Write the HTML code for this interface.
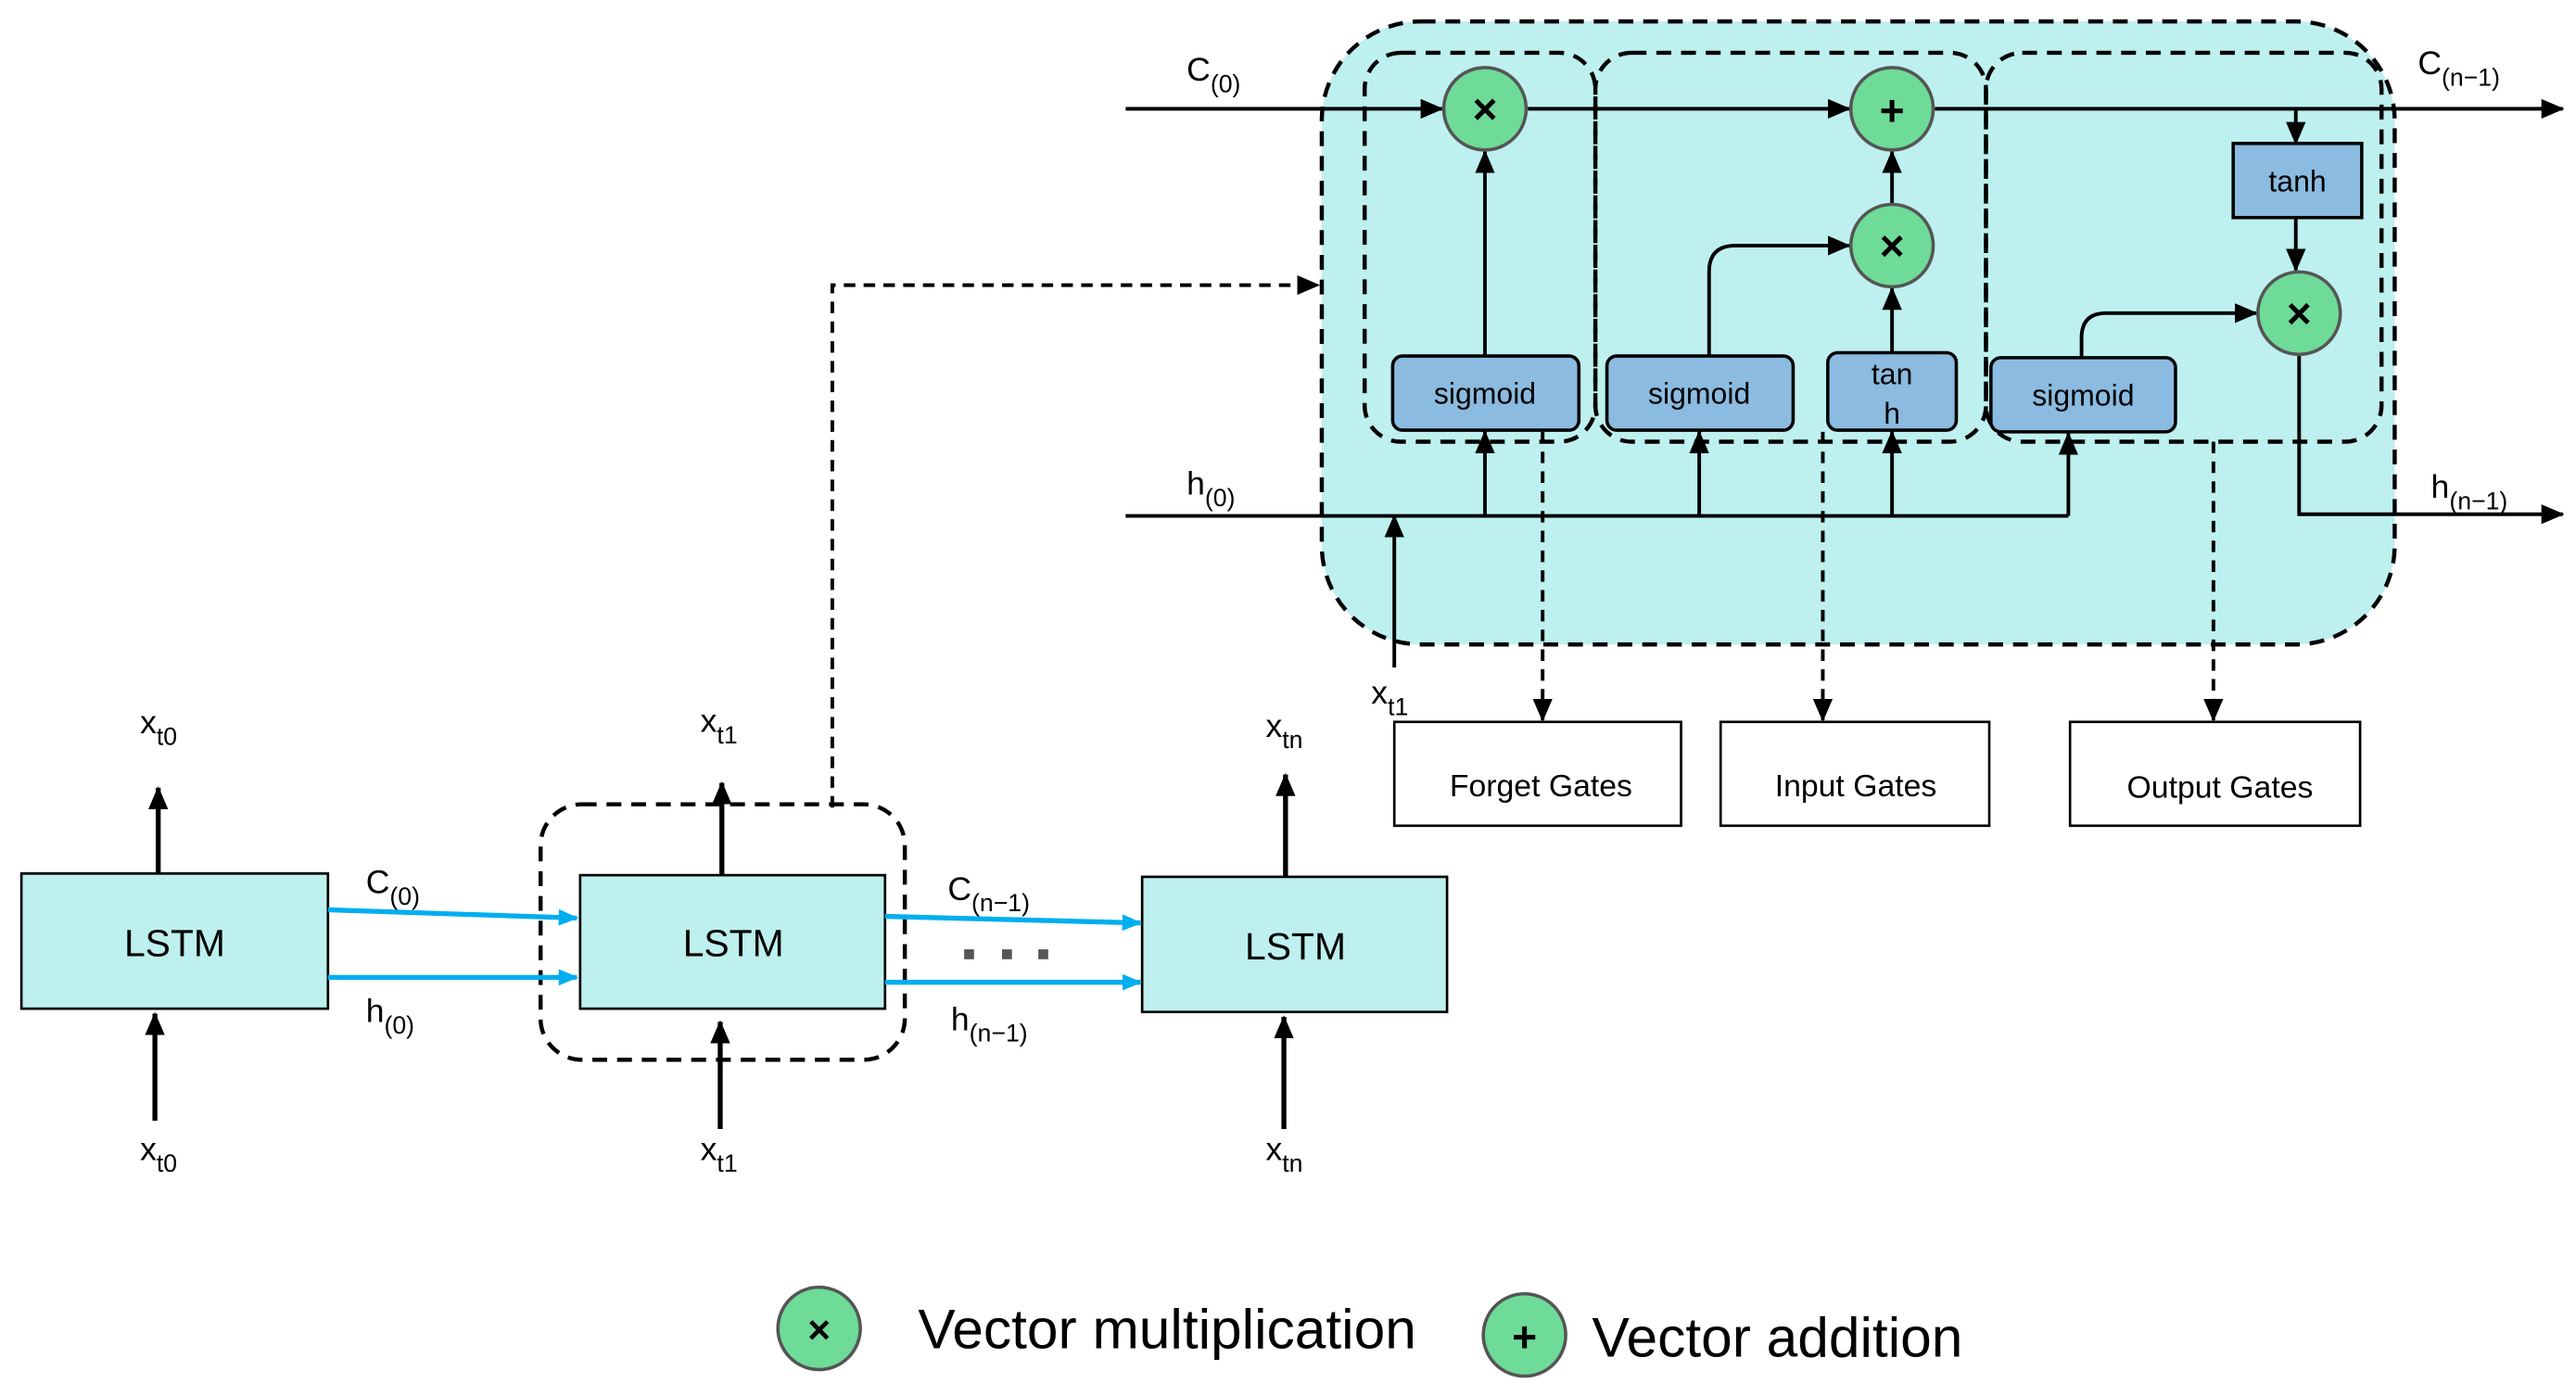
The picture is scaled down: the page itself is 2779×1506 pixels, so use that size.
<!DOCTYPE html>
<html><head><style>html,body{margin:0;padding:0;background:#fff}svg{display:block}</style></head>
<body>
<svg width="2779" height="1506" viewBox="0 0 1563 847" xmlns="http://www.w3.org/2000/svg" font-family="Liberation Sans, Arial, sans-serif">
<defs>
<marker id="a" markerWidth="14" markerHeight="12" refX="13" refY="6" orient="auto" markerUnits="userSpaceOnUse" viewBox="0 0 14 12"><path d="M0,0 L14,6 L0,12z" fill="#000"/></marker>
<marker id="ab" markerWidth="12" markerHeight="10" refX="11" refY="5" orient="auto" markerUnits="userSpaceOnUse" viewBox="0 0 12 10"><path d="M0,0 L12,5 L0,10z" fill="#00aeef"/></marker>
</defs>
<rect x="802" y="13" width="651" height="378" rx="60" fill="#bdf0ef" stroke="#000" stroke-width="2.5" stroke-dasharray="9,6"/>
<g fill="none" stroke="#000" stroke-width="2.5" stroke-dasharray="9,6">
<rect x="828" y="32" width="140" height="236" rx="22"/>
<rect x="968" y="32" width="237" height="236" rx="22"/>
<rect x="1205" y="32" width="240" height="236" rx="22"/>
</g>
<g stroke="#000" stroke-width="2.2" fill="none">
<line x1="683" y1="66" x2="875" y2="66" marker-end="url(#a)"/>
<line x1="927" y1="66" x2="1122" y2="66" marker-end="url(#a)"/>
<line x1="1174" y1="66" x2="1555" y2="66" marker-end="url(#a)"/>
<line x1="1393" y1="66" x2="1393" y2="87" marker-end="url(#a)"/>
<line x1="1393" y1="132" x2="1393" y2="164" marker-end="url(#a)"/>
<line x1="1148" y1="124" x2="1148" y2="92" marker-end="url(#a)"/>
<line x1="901" y1="216" x2="901" y2="92" marker-end="url(#a)"/>
<path d="M1037,216 V165 Q1037,149 1053,149 H1122" marker-end="url(#a)"/>
<line x1="1148" y1="214" x2="1148" y2="175" marker-end="url(#a)"/>
<path d="M1263,217 V205 Q1263,190 1278,190 H1369" marker-end="url(#a)"/>
<path d="M1395,216 V312 H1555" marker-end="url(#a)"/>
<line x1="683" y1="313" x2="1255" y2="313"/>
<line x1="901" y1="313" x2="901" y2="262" marker-end="url(#a)"/>
<line x1="1031" y1="313" x2="1031" y2="262" marker-end="url(#a)"/>
<line x1="1148" y1="313" x2="1148" y2="262" marker-end="url(#a)"/>
<line x1="1255" y1="313" x2="1255" y2="263" marker-end="url(#a)"/>
<line x1="846" y1="405" x2="846" y2="313" marker-end="url(#a)"/>
</g>
<g stroke="#000" stroke-width="2.2" fill="none" stroke-dasharray="7,5">
<line x1="936" y1="262" x2="936" y2="437" marker-end="url(#a)"/>
<line x1="1106" y1="262" x2="1106" y2="437" marker-end="url(#a)"/>
<line x1="1343" y1="268" x2="1343" y2="437" marker-end="url(#a)"/>
<path d="M505,490 V173 H800" marker-end="url(#a)"/>
</g>
<g fill="#6fdb98" stroke="#555" stroke-width="2">
<circle cx="901" cy="66" r="25"/><circle cx="1148" cy="66" r="25"/>
<circle cx="1148" cy="149" r="25"/><circle cx="1395" cy="190" r="25"/>
<circle cx="497" cy="806" r="25"/><circle cx="925" cy="810" r="25"/>
</g>
<g font-weight="bold" font-size="26" text-anchor="middle">
<text x="901" y="75">×</text><text x="1148" y="76">+</text><text x="1148" y="158">×</text><text x="1395" y="199">×</text>
<text x="497" y="815" font-size="24">×</text><text x="925" y="820">+</text>
</g>
<g fill="#8bbbe0" stroke="#000" stroke-width="2">
<rect x="1355" y="87" width="78" height="45"/>
<rect x="845" y="216" width="113" height="45" rx="6"/>
<rect x="975" y="216" width="113" height="45" rx="6"/>
<rect x="1109" y="214" width="78" height="47" rx="6"/>
<rect x="1208" y="217" width="112" height="45" rx="6"/>
</g>
<g font-size="18" text-anchor="middle">
<text x="1394" y="116">tanh</text>
<text x="901" y="245">sigmoid</text><text x="1031" y="245">sigmoid</text>
<text x="1148" y="233">tan</text><text x="1148" y="257">h</text>
<text x="1264" y="246">sigmoid</text>
</g>
<g fill="#fff" stroke="#000" stroke-width="1.5">
<rect x="846" y="438" width="174" height="63"/><rect x="1044" y="438" width="163" height="63"/><rect x="1256" y="438" width="176" height="63"/>
</g>
<g font-size="19" text-anchor="middle">
<text x="935" y="483">Forget Gates</text><text x="1126" y="483">Input Gates</text><text x="1347" y="484">Output Gates</text>
</g>
<g font-size="20">
<text x="720" y="49">C<tspan font-size="15" dy="7">(0)</tspan></text>
<text x="1467" y="45">C<tspan font-size="15" dy="7">(n−1)</tspan></text>
<text x="720" y="300">h<tspan font-size="15" dy="7">(0)</tspan></text>
<text x="1475" y="302">h<tspan font-size="15" dy="7">(n−1)</tspan></text>
<text x="832" y="427">x<tspan font-size="15" dy="7">t1</tspan></text>
</g>
<rect x="328" y="488" width="221" height="155" rx="25" fill="none" stroke="#000" stroke-width="2.5" stroke-dasharray="9,6"/>
<g fill="#bdf0ef" stroke="#000" stroke-width="1.5">
<rect x="13" y="530" width="186" height="82"/><rect x="352" y="531" width="185" height="81"/><rect x="693" y="532" width="185" height="82"/>
</g>
<g font-size="23" text-anchor="middle">
<text x="106" y="580">LSTM</text><text x="445" y="580">LSTM</text><text x="786" y="582">LSTM</text>
</g>
<g stroke="#00aeef" stroke-width="3">
<line x1="199" y1="552" x2="350" y2="557" marker-end="url(#ab)"/>
<line x1="199" y1="593" x2="350" y2="593" marker-end="url(#ab)"/>
<line x1="537" y1="556" x2="692" y2="560" marker-end="url(#ab)"/>
<line x1="537" y1="596" x2="692" y2="596" marker-end="url(#ab)"/>
</g>
<g fill="#555"><rect x="585" y="576" width="6" height="6"/><rect x="608" y="576" width="6" height="6"/><rect x="630" y="576" width="6" height="6"/></g>
<g stroke="#000" stroke-width="3">
<line x1="96" y1="530" x2="96" y2="478" marker-end="url(#a)"/>
<line x1="94" y1="680" x2="94" y2="615" marker-end="url(#a)"/>
<line x1="438" y1="531" x2="438" y2="475" marker-end="url(#a)"/>
<line x1="437" y1="685" x2="437" y2="620" marker-end="url(#a)"/>
<line x1="780" y1="532" x2="780" y2="470" marker-end="url(#a)"/>
<line x1="779" y1="685" x2="779" y2="617" marker-end="url(#a)"/>
</g>
<g font-size="20">
<text x="222" y="542">C<tspan font-size="15" dy="7">(0)</tspan></text>
<text x="222" y="620">h<tspan font-size="15" dy="7">(0)</tspan></text>
<text x="575" y="546">C<tspan font-size="15" dy="7">(n−1)</tspan></text>
<text x="577" y="625">h<tspan font-size="15" dy="7">(n−1)</tspan></text>
<text x="85" y="445">x<tspan font-size="15" dy="7">t0</tspan></text>
<text x="85" y="704">x<tspan font-size="15" dy="7">t0</tspan></text>
<text x="425" y="444">x<tspan font-size="15" dy="7">t1</tspan></text>
<text x="425" y="704">x<tspan font-size="15" dy="7">t1</tspan></text>
<text x="768" y="447">x<tspan font-size="15" dy="7">tn</tspan></text>
<text x="768" y="704">x<tspan font-size="15" dy="7">tn</tspan></text>
</g>
<text x="557" y="818" font-size="34">Vector multiplication</text>
<text x="966" y="823" font-size="34">Vector addition</text>
</svg>
</body></html>
